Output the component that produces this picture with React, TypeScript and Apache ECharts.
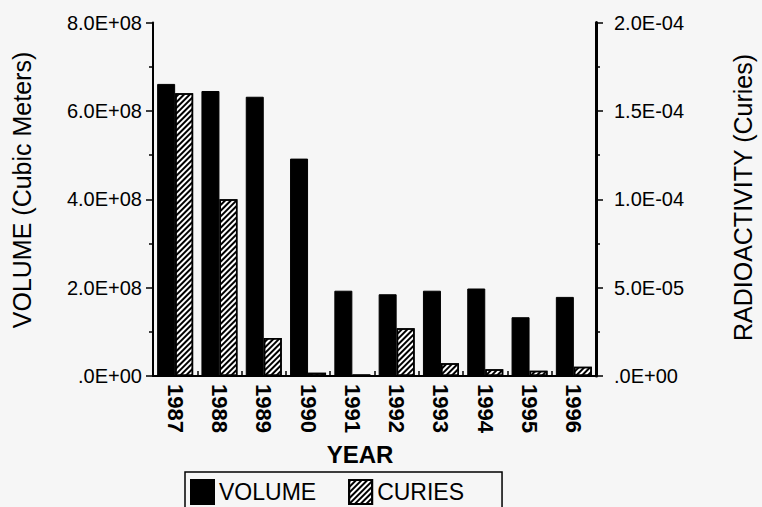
import React, { useEffect, useRef } from "react";
import * as echarts from "echarts";

const years = ["1987", "1988", "1989", "1990", "1991", "1992", "1993", "1994", "1995", "1996"];
const volume = [6.61e8, 6.45e8, 6.32e8, 4.92e8, 1.93e8, 1.85e8, 1.93e8, 1.98e8, 1.33e8, 1.79e8];
const curies = [1.6e-4, 1.0e-4, 2.15e-5, 1.8e-6, 9e-7, 2.7e-5, 7.2e-6, 3.8e-6, 3.0e-6, 5.3e-6];
const leftTicks = [".0E+00", "2.0E+08", "4.0E+08", "6.0E+08", "8.0E+08"];
const rightTicks = [".0E+00", "5.0E-05", "1.0E-04", "1.5E-04", "2.0E-04"];

const FONT = "'Liberation Sans', Arial, Helvetica, sans-serif";

export default function App() {
  const ref = useRef<HTMLDivElement>(null);
  useEffect(() => {
    if (!ref.current) return;
    const chart = echarts.init(ref.current, undefined, { renderer: "svg" });
    chart.setOption({
      animation: false,
      backgroundColor: "#f6f6f6",
      textStyle: { fontFamily: FONT, color: "#000" },
      grid: { left: 153, right: 166, top: 22.5, bottom: 131, containLabel: false },
      xAxis: {
        type: "category",
        data: years,
        axisLine: { show: true, lineStyle: { color: "#000", width: 2 } },
        axisTick: { show: true, inside: true, length: 5, lineStyle: { color: "#000", width: 1.5 } },
        axisLabel: {
          rotate: -90,
          margin: 8,
          fontSize: 22,
          fontWeight: "bold",
          color: "#000",
          fontFamily: FONT,
        },
      },
      yAxis: [
        {
          type: "value",
          min: 0,
          max: 8e8,
          interval: 2e8,
          position: "left",
          axisLine: { show: true, lineStyle: { color: "#000", width: 2 } },
          axisTick: { show: true, length: 7, lineStyle: { color: "#000", width: 1.5 } },
          minorTick: { show: true, splitNumber: 2, length: 4, lineStyle: { color: "#000", width: 1.5 } },
          splitLine: { show: false },
          axisLabel: {
            fontSize: 20,
            color: "#000",
            margin: 11,
            fontFamily: FONT,
            formatter: (v: number) => leftTicks[Math.round(v / 2e8)] ?? "",
          },
        },
        {
          type: "value",
          min: 0,
          max: 2e-4,
          interval: 5e-5,
          position: "right",
          axisLine: { show: true, lineStyle: { color: "#000", width: 3 } },
          axisTick: { show: true, length: 7, lineStyle: { color: "#000", width: 1.5 } },
          minorTick: { show: true, splitNumber: 2, length: 4, lineStyle: { color: "#000", width: 1.5 } },
          splitLine: { show: false },
          axisLabel: {
            fontSize: 20,
            color: "#000",
            margin: 18,
            fontFamily: FONT,
            formatter: (v: number) => rightTicks[Math.round(v / 5e-5)] ?? "",
          },
        },
      ],
      legend: {
        left: 185,
        top: 472,
        orient: "horizontal",
        padding: [7, 38, 7, 5],
        itemGap: 32,
        itemWidth: 23,
        itemHeight: 24,
        borderColor: "#000",
        borderWidth: 1.5,
        borderRadius: 0,
        textStyle: { fontSize: 23, color: "#000", fontFamily: FONT },
        data: [
          { name: "VOLUME", icon: "rect" },
          { name: "CURIES", icon: "rect" },
        ],
      },
      graphic: [
        {
          type: "text",
          x: 360,
          y: 454,
          style: { text: "YEAR", font: `bold 24px ${FONT}`, fill: "#000", align: "center", verticalAlign: "middle" },
        },
        {
          type: "text",
          x: 22,
          y: 190,
          rotation: Math.PI / 2,
          style: { text: "VOLUME (Cubic Meters)", font: `25px ${FONT}`, fill: "#000", align: "center", verticalAlign: "middle" },
        },
        {
          type: "text",
          x: 743,
          y: 197.5,
          rotation: Math.PI / 2,
          style: { text: "RADIOACTIVITY (Curies)", font: `25px ${FONT}`, fill: "#000", align: "center", verticalAlign: "middle" },
        },
      ],
      series: [
        {
          name: "VOLUME",
          type: "bar",
          yAxisIndex: 0,
          data: volume,
          barWidth: 18,
          barGap: "0%",
          itemStyle: { color: "#000", borderColor: "#000", borderWidth: 1 },
        },
        {
          name: "CURIES",
          type: "bar",
          yAxisIndex: 1,
          data: curies,
          barWidth: 18,
          barGap: "0%",
          itemStyle: {
            color: "#ffffff",
            borderColor: "#000",
            borderWidth: 1.5,
            decal: {
              symbol: "rect",
              symbolSize: 1,
              rotation: -Math.PI / 4,
              dashArrayX: [1, 0],
              dashArrayY: [2, 2],
              color: "#000",
              backgroundColor: "#ffffff",
            },
          },
        },
      ],
    });
    return () => chart.dispose();
  }, []);
  return (
    <div
      ref={ref}
      style={{ position: "fixed", left: 0, top: 0, width: 762, height: 507 }}
    />
  );
}
